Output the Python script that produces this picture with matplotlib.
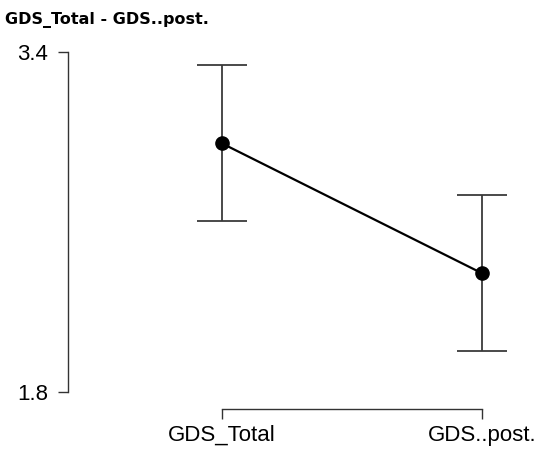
import matplotlib.pyplot as plt

grupos = ["GDS_Total", "GDS..post."]
medias = [2.970, 2.359]
ic_inferior = [2.605, 1.993]
ic_superior = [3.339, 2.727]

y_ticks = [1.8, 3.4]
y_tick_labels = ["1.8", "3.4"]


def main():
    plt.rcParams["font.family"] = ["Liberation Sans", "DejaVu Sans"]

    fig = plt.figure(figsize=(5.36, 4.51), dpi=100)
    ax = fig.add_axes([68 / 536, 59 / 451, 462 / 536, 340 / 451])

    x = list(range(len(grupos)))
    erro_baixo = [m - l for m, l in zip(medias, ic_inferior)]
    erro_cima = [u - m for m, u in zip(medias, ic_superior)]

    ax.errorbar(x, medias, yerr=[erro_baixo, erro_cima], fmt="none",
                ecolor="#3a3a3a", elinewidth=1.3, capsize=18, capthick=1.3,
                zorder=1)
    ax.plot(x, medias, color="black", linewidth=1.6, marker="o",
            markersize=9.5, zorder=2)

    ax.set_xlim(-0.592, 1.185)
    ax.set_ylim(1.8, 3.4)

    ax.set_yticks(y_ticks)
    ax.set_yticklabels(y_tick_labels)
    ax.set_xticks(x)
    ax.set_xticklabels(grupos)

    for lado in ["top", "right"]:
        ax.spines[lado].set_visible(False)
    ax.spines["left"].set_bounds(1.8, 3.4)
    ax.spines["bottom"].set_bounds(0, 1)
    ax.spines["bottom"].set_position(("outward", 12.5))
    for lado in ["left", "bottom"]:
        ax.spines[lado].set_linewidth(1.0)
        ax.spines[lado].set_color("#333333")

    ax.tick_params(axis="both", length=7.2, width=1.0, color="#333333",
                   labelsize=16, pad=7)
    ax.tick_params(axis="x", pad=4)

    fig.text(5 / 536, 1 - 20 / 451, "GDS_Total - GDS..post.",
             fontsize=11.5, fontweight="bold", family="DejaVu Sans",
             va="center", ha="left")

    fig.savefig("out.png", dpi=100)


if __name__ == "__main__":
    main()
